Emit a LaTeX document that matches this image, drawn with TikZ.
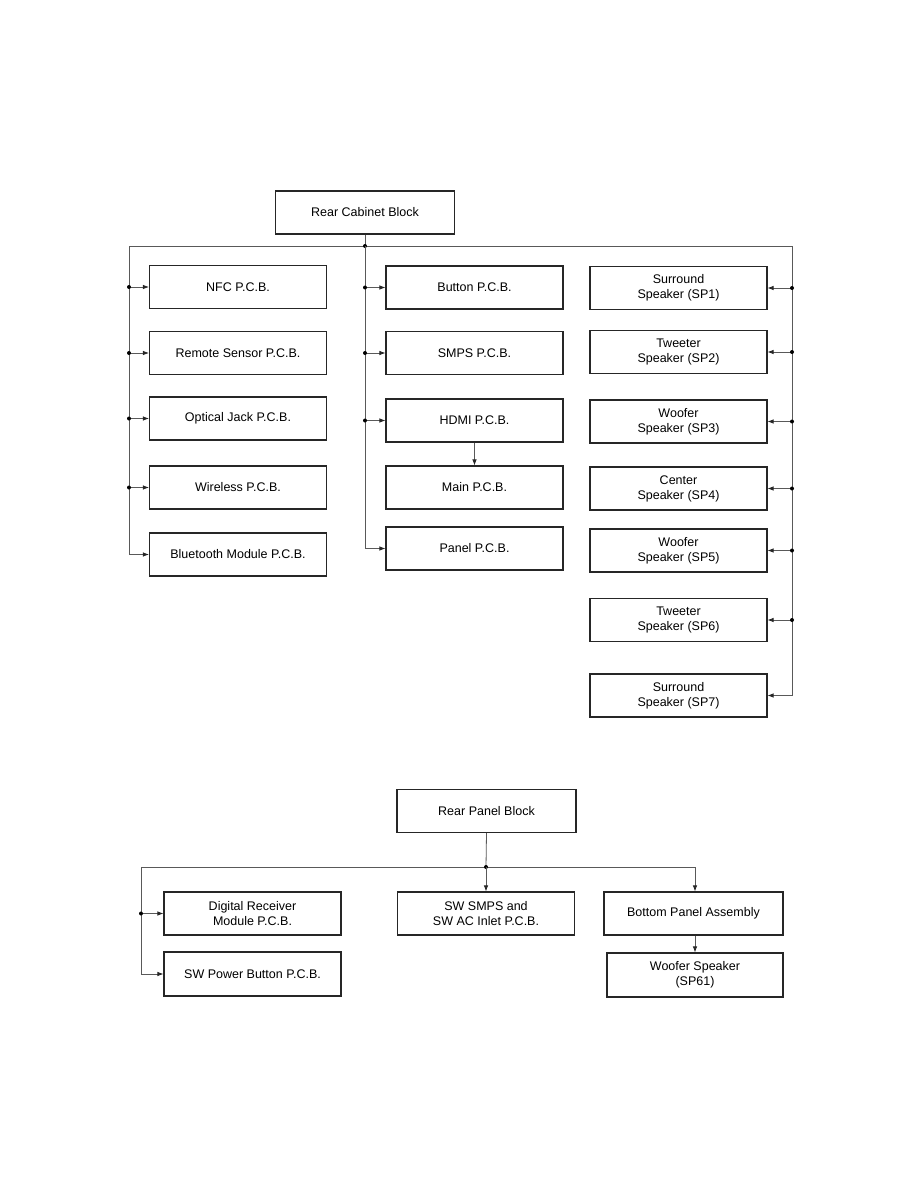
\documentclass[tikz,border=0pt]{standalone}
\usepackage{fontspec}
\setmainfont{Liberation Sans}
\usetikzlibrary{arrows.meta}
\begin{document}
\begin{tikzpicture}[x=1pt,y=-1pt,
  blk/.style={draw=black!85,line width=1.1pt,minimum width=177pt,minimum height=43pt,inner sep=0pt,align=center,font=\fontsize{12.5}{15}\selectfont},
  conn/.style={draw=black!65,line width=0.8pt},
  arr/.style={conn,-{Latex[length=6pt,width=4.5pt,color=black!85]}},
  dot/.style={circle,fill=black,inner sep=0pt,minimum size=4pt}]
\useasboundingbox (0,0) rectangle (918,1188);
% top block
\node[blk,minimum width=179pt] (rcb) at (365,212.5) {Rear Cabinet Block};
\node[blk] (nfc) at (238,287) {NFC P.C.B.};
\node[blk] (rs) at (238,353) {Remote Sensor P.C.B.};
\node[blk] (oj) at (238,418.5) {Optical Jack P.C.B.};
\node[blk] (wl) at (238,487.5) {Wireless P.C.B.};
\node[blk] (bt) at (238,554.5) {Bluetooth Module P.C.B.};
\node[blk] (btn) at (474.5,287.5) {Button P.C.B.};
\node[blk] (smps) at (474.5,353) {SMPS P.C.B.};
\node[blk] (hdmi) at (474.5,420.5) {HDMI P.C.B.};
\node[blk] (main) at (474.5,487.5) {Main P.C.B.};
\node[blk] (panel) at (474.5,548.5) {Panel P.C.B.};
\node[blk] (sp1) at (678.5,288) {Surround\\Speaker (SP1)};
\node[blk] (sp2) at (678.5,352) {Tweeter\\Speaker (SP2)};
\node[blk] (sp3) at (678.5,421.5) {Woofer\\Speaker (SP3)};
\node[blk] (sp4) at (678.5,488.5) {Center\\Speaker (SP4)};
\node[blk] (sp5) at (678.5,550.5) {Woofer\\Speaker (SP5)};
\node[blk] (sp6) at (678.5,620) {Tweeter\\Speaker (SP6)};
\node[blk] (sp7) at (678.5,695.5) {Surround\\Speaker (SP7)};
\coordinate (bus) at (365,246);
\coordinate (L) at (129,246);
\coordinate (R) at (792,246);
\draw[conn] (rcb.south) -- (bus);
\draw[conn] (L) -- (R);
\node[dot] at (bus) {};
% left column
\draw[arr] (L) |- (bt.west);
\foreach \n in {nfc,rs,oj,wl}{
  \draw[arr] (\n.west -| L) -- (\n.west);
  \node[dot] at (\n.west -| L) {};
}
% middle column
\draw[arr] (bus) |- (panel.west);
\foreach \n in {btn,smps,hdmi}{
  \draw[arr] (\n.west -| bus) -- (\n.west);
  \node[dot] at (\n.west -| bus) {};
}
\draw[arr] (hdmi.south) -- (main.north);
% right column
\draw[arr] (R) |- (sp7.east);
\foreach \n in {sp1,sp2,sp3,sp4,sp5,sp6}{
  \draw[arr] (\n.east -| R) -- (\n.east);
  \node[dot] at (\n.east -| R) {};
}
% bottom block
\node[blk,minimum width=179pt] (rpb) at (486.5,811) {Rear Panel Block};
\node[blk] (drm) at (252.5,913.5) {Digital Receiver\\Module P.C.B.};
\node[blk,minimum height=44pt] (swp) at (252.5,974) {SW Power Button P.C.B.};
\node[blk] (sws) at (486,913.5) {SW SMPS and\\SW AC Inlet P.C.B.};
\node[blk,minimum width=179pt] (bpa) at (693.5,913.5) {Bottom Panel Assembly};
\node[blk,minimum width=176pt,minimum height=44pt] (wsp) at (695,975) {Woofer Speaker\\(SP61)};
\coordinate (b) at (486,867);
\coordinate (bl) at (141,867);
\coordinate (br) at (695,867);
\draw[conn] (rpb.south) -- (b);
\draw[conn] (bl) -- (br);
\node[dot] at (b) {};
\draw[arr] (b) -- (sws.north);
\draw[arr] (br) -- (bpa.north -| br);
\draw[arr] (bl) |- (swp.west);
\draw[arr] (drm.west -| bl) -- (drm.west);
\node[dot] at (drm.west -| bl) {};
\draw[arr] (bpa.south -| br) -- (wsp.north -| br);
\end{tikzpicture}
\end{document}
